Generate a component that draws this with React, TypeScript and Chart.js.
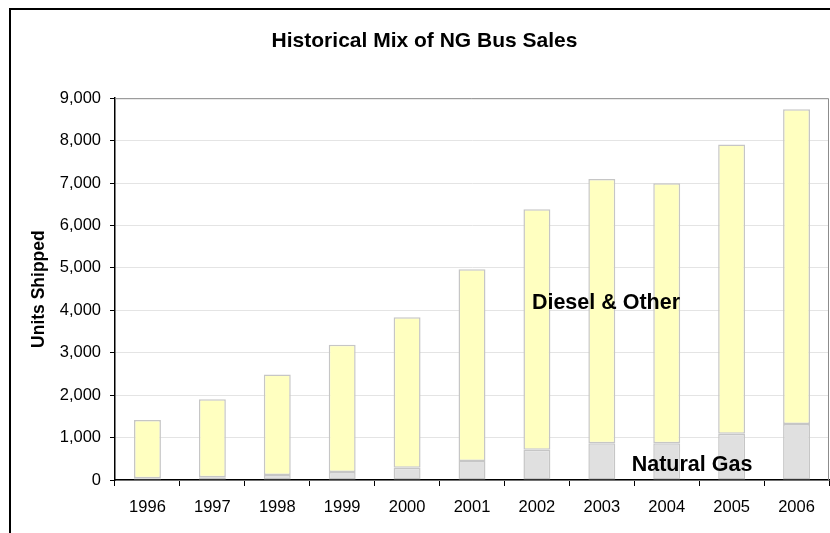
import React, { useEffect, useRef } from "react";
import { Chart, registerables } from "chart.js";

Chart.register(...registerables);

const years = ["1996", "1997", "1998", "1999", "2000", "2001", "2002", "2003", "2004", "2005", "2006"];
const naturalGas = [40, 63, 118, 189, 291, 448, 715, 865, 865, 1093, 1320];
const dieselOther = [1375, 1839, 2366, 3002, 3545, 4520, 5667, 6233, 6130, 6814, 7420];

const chartTitle = "Historical Mix of NG Bus Sales";
const yAxisTitle = "Units Shipped";
const seriesNames = ["Natural Gas", "Diesel & Other"];

const FONT = "'Liberation Sans', Arial, sans-serif";

// Outer frame around the whole chart, plus the grey top/right edges of the plot
const framePlugin = {
  id: "frame",
  beforeDraw(chart: any) {
    const { ctx } = chart;
    ctx.save();
    ctx.fillStyle = "#ffffff";
    ctx.fillRect(0, 0, chart.width, chart.height);
    ctx.strokeStyle = "#000000";
    ctx.lineWidth = 2;
    ctx.strokeRect(10, 9, chart.width + 20, chart.height + 20);
    ctx.restore();
  },
  beforeDatasetsDraw(chart: any) {
    const { ctx, chartArea } = chart;
    ctx.save();
    ctx.strokeStyle = "#8c8c8c";
    ctx.lineWidth = 1;
    ctx.beginPath();
    ctx.moveTo(chartArea.left, chartArea.top + 0.5);
    ctx.lineTo(chartArea.right - 0.5, chartArea.top + 0.5);
    ctx.lineTo(chartArea.right - 0.5, chartArea.bottom);
    ctx.stroke();
    ctx.restore();
  },
};

// In-plot series labels, anchored through the scales
const seriesLabelPlugin = {
  id: "seriesLabels",
  afterDatasetsDraw(chart: any) {
    const { ctx } = chart;
    const x = chart.scales.x;
    const y = chart.scales.y;
    ctx.save();
    ctx.fillStyle = "#000000";
    ctx.font = `bold 21.5px ${FONT}`;
    ctx.textAlign = "left";
    ctx.textBaseline = "middle";
    ctx.fillText(seriesNames[1], x.getPixelForValue(6) - 5, y.getPixelForValue(4170));
    ctx.fillText(seriesNames[0], x.getPixelForValue(7.46), y.getPixelForValue(353));
    ctx.restore();
  },
};

export default function App() {
  const canvasRef = useRef<HTMLCanvasElement | null>(null);

  useEffect(() => {
    if (!canvasRef.current) return;
    const chart = new Chart(canvasRef.current, {
      type: "bar",
      data: {
        labels: years,
        datasets: [
          {
            label: seriesNames[0],
            data: naturalGas,
            backgroundColor: "#e0e0e0",
            borderColor: "#c6c6c6",
            borderWidth: 1.5,
            borderSkipped: false,
            categoryPercentage: 1,
            barPercentage: 0.415,
          },
          {
            label: seriesNames[1],
            data: dieselOther,
            backgroundColor: "#ffffc0",
            borderColor: "#c6c6c6",
            borderWidth: 1.5,
            borderSkipped: false,
            categoryPercentage: 1,
            barPercentage: 0.415,
          },
        ],
      },
      options: {
        responsive: false,
        animation: false,
        layout: { padding: { left: 20, right: 1, top: 0, bottom: 0 } },
        plugins: {
          legend: { display: false },
          tooltip: { enabled: false },
          title: {
            display: true,
            text: chartTitle,
            color: "#000000",
            font: { family: FONT, size: 21, weight: "bold" },
            padding: { top: 29, bottom: 44 },
          },
        },
        scales: {
          x: {
            stacked: true,
            offset: true,
            grid: {
              display: true,
              offset: true,
              drawOnChartArea: false,
              tickLength: 6,
              tickColor: "#000000",
              tickWidth: 1,
            },
            border: { display: true, color: "#000000", width: 1.5 },
            ticks: {
              color: "#000000",
              font: { family: FONT, size: 16.5 },
              padding: 12,
              maxRotation: 0,
              autoSkip: false,
            },
            afterFit(scale: any) {
              scale.height = 53;
            },
          },
          y: {
            stacked: true,
            min: 0,
            max: 9000,
            grid: {
              color: "#e4e4e4",
              lineWidth: 1,
              tickLength: 5,
              tickColor: "#000000",
            },
            border: { display: true, color: "#000000", width: 1.5 },
            ticks: {
              stepSize: 1000,
              color: "#000000",
              font: { family: FONT, size: 16.5 },
              padding: 9,
              callback: (v: any) => Number(v).toLocaleString("en-US"),
            },
            title: {
              display: true,
              text: yAxisTitle,
              color: "#000000",
              font: { family: FONT, size: 17.5, weight: "bold" },
              padding: { top: 9, bottom: 0 },
            },
            afterFit(scale: any) {
              scale.width = 95;
            },
          },
        },
      },
      plugins: [framePlugin, seriesLabelPlugin],
    });
    return () => chart.destroy();
  }, []);

  return (
    <div style={{ position: "fixed", left: 0, top: 0, width: 830, height: 533, background: "#fff" }}>
      <canvas ref={canvasRef} width={830} height={533} style={{ display: "block" }} />
    </div>
  );
}
